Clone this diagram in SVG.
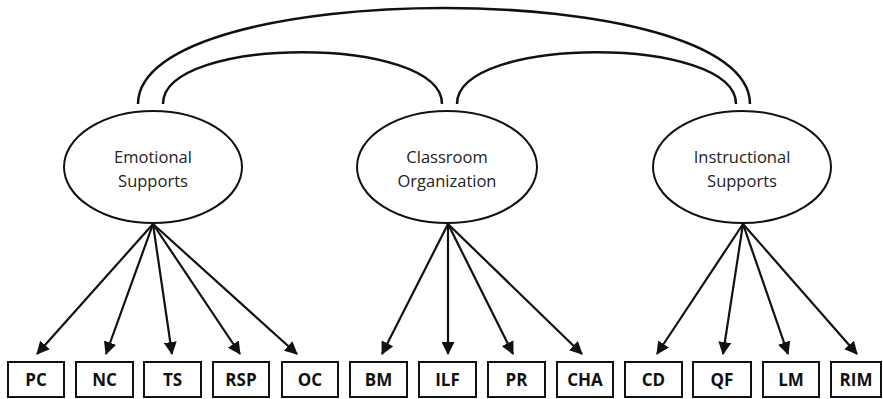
<svg xmlns="http://www.w3.org/2000/svg" width="883" height="399" viewBox="0 0 883 399">
  <style>
    .ell { fill: #ffffff; stroke: #111; stroke-width: 2; }
    .lbl { font-family: "Open Sans", "Liberation Sans", sans-serif; font-size: 16.5px; fill: #222; text-anchor: middle; }
    .box { fill: #ffffff; stroke: #111; stroke-width: 2; }
    .btxt { font-family: "Open Sans", "Liberation Sans", sans-serif; font-size: 17px; font-weight: 700; fill: #111; text-anchor: middle; }
    .cov { fill: none; stroke: #111; stroke-width: 2.5; }
    .arr { fill: none; stroke: #111; stroke-width: 2.2; marker-end: url(#ah); }
  </style>
  <defs>
    <marker id="ah" markerUnits="userSpaceOnUse" markerWidth="13" markerHeight="13" refX="12" refY="6.5" orient="auto">
      <path d="M0,0 L13,6.5 L0,13 z" fill="#111"/>
    </marker>
  </defs>
  <rect width="883" height="399" fill="#ffffff"/>

  <g id="connectors">
    <path class="cov" d="M138,104 C138,-24 750,-24 750,104"/>
    <path class="cov" d="M163,104 C163,35 442,35 442,104"/>
    <path class="cov" d="M457,104 C457,35 736,35 736,104"/>
    <line class="arr" x1="153" y1="224" x2="37" y2="354"/>
    <line class="arr" x1="153" y1="224" x2="106" y2="354"/>
    <line class="arr" x1="153" y1="224" x2="172" y2="354"/>
    <line class="arr" x1="153" y1="224" x2="240" y2="354"/>
    <line class="arr" x1="153" y1="224" x2="297" y2="354"/>
    <line class="arr" x1="448" y1="224" x2="382" y2="354"/>
    <line class="arr" x1="448" y1="224" x2="448" y2="354"/>
    <line class="arr" x1="448" y1="224" x2="513" y2="354"/>
    <line class="arr" x1="448" y1="224" x2="582" y2="354"/>
    <line class="arr" x1="743" y1="224" x2="657" y2="354"/>
    <line class="arr" x1="743" y1="224" x2="723" y2="354"/>
    <line class="arr" x1="743" y1="224" x2="788" y2="354"/>
    <line class="arr" x1="743" y1="224" x2="857" y2="354"/>
  </g>

  <g id="emotional">
    <ellipse class="ell" cx="153" cy="167" rx="89" ry="56"/>
    <text class="lbl" x="153" y="163">Emotional</text>
    <text class="lbl" x="153" y="187">Supports</text>
  </g>
  <g id="classroom">
    <ellipse class="ell" cx="447" cy="167" rx="90" ry="56"/>
    <text class="lbl" x="447" y="163">Classroom</text>
    <text class="lbl" x="447" y="187">Organization</text>
  </g>
  <g id="instructional">
    <ellipse class="ell" cx="742" cy="167" rx="89" ry="56"/>
    <text class="lbl" x="742" y="163">Instructional</text>
    <text class="lbl" x="742" y="187">Supports</text>
  </g>

  <g id="PC"><rect class="box" x="8" y="362" width="56" height="35"/><text class="btxt" x="36" y="386">PC</text></g>
  <g id="NC"><rect class="box" x="76" y="362" width="57" height="35"/><text class="btxt" x="104.5" y="386">NC</text></g>
  <g id="TS"><rect class="box" x="144" y="362" width="57" height="35"/><text class="btxt" x="172.5" y="386">TS</text></g>
  <g id="RSP"><rect class="box" x="213" y="362" width="56" height="35"/><text class="btxt" x="241" y="386">RSP</text></g>
  <g id="OC"><rect class="box" x="282" y="362" width="56" height="35"/><text class="btxt" x="310" y="386">OC</text></g>
  <g id="BM"><rect class="box" x="350" y="362" width="57" height="35"/><text class="btxt" x="378.5" y="386">BM</text></g>
  <g id="ILF"><rect class="box" x="419" y="362" width="57" height="35"/><text class="btxt" x="447.5" y="386">ILF</text></g>
  <g id="PR"><rect class="box" x="488" y="362" width="57" height="35"/><text class="btxt" x="516.5" y="386">PR</text></g>
  <g id="CHA"><rect class="box" x="557" y="362" width="56" height="35"/><text class="btxt" x="585" y="386">CHA</text></g>
  <g id="CD"><rect class="box" x="625" y="362" width="57" height="35"/><text class="btxt" x="653.5" y="386">CD</text></g>
  <g id="QF"><rect class="box" x="693" y="362" width="58" height="35"/><text class="btxt" x="722" y="386">QF</text></g>
  <g id="LM"><rect class="box" x="763" y="362" width="56" height="35"/><text class="btxt" x="791" y="386">LM</text></g>
  <g id="RIM"><rect class="box" x="831" y="362" width="50" height="35"/><text class="btxt" x="856" y="386">RIM</text></g>
</svg>
